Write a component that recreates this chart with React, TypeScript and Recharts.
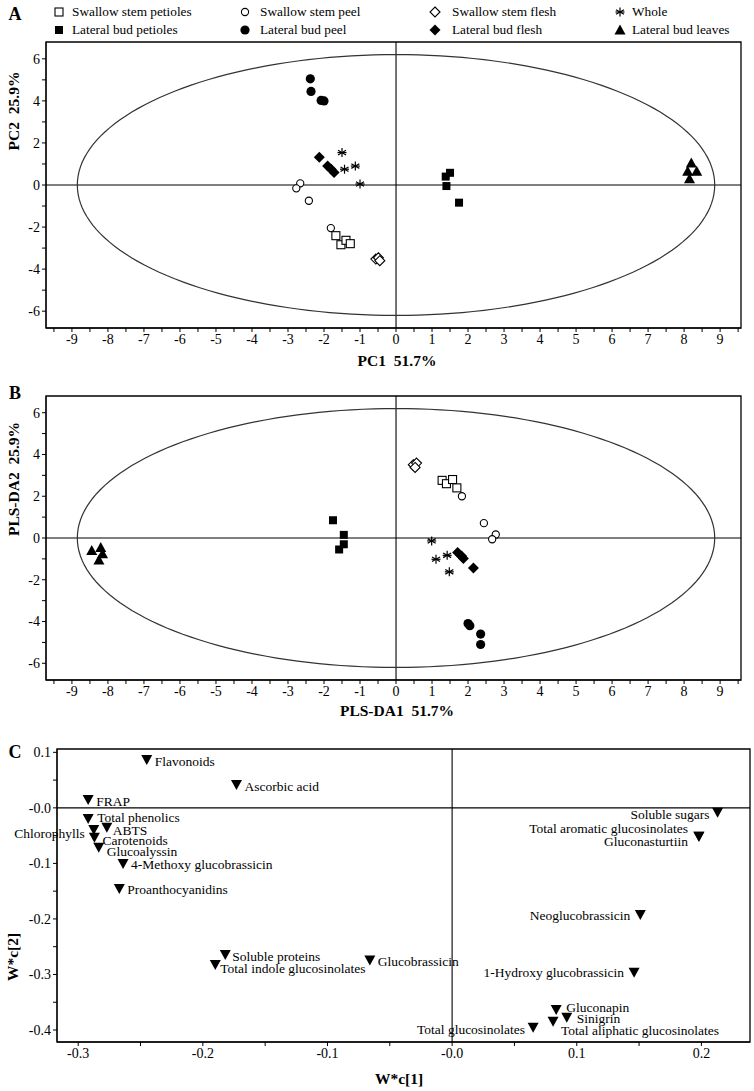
import React from 'react'
import { ReferenceArea, ReferenceLine, Scatter, ScatterChart, XAxis, YAxis } from 'recharts'

const SERIF = '"Liberation Serif", "Times New Roman", serif'

// ---- Panel A: PCA scores ----
const pcaSwallowPetioles = [[-1.67, -2.41], [-1.53, -2.84], [-1.39, -2.63], [-1.27, -2.79]]
const pcaLateralPetioles = [[1.5, 0.58], [1.38, 0.4], [1.4, -0.05], [1.75, -0.84]]
const pcaSwallowPeel = [[-2.66, 0.08], [-2.77, -0.16], [-2.42, -0.75], [-1.81, -2.05]]
const pcaLateralPeel = [[-2.38, 5.05], [-2.36, 4.45], [-2.08, 4.02], [-2.0, 4.0]]
const pcaSwallowFlesh = [[-0.56, -3.52], [-0.49, -3.46], [-0.45, -3.6]]
const pcaLateralFlesh = [[-2.13, 1.32], [-1.9, 0.9], [-1.8, 0.75], [-1.72, 0.6]]
const pcaWhole = [[-1.5, 1.54], [-1.43, 0.75], [-1.13, 0.9], [-1.0, 0.05]]
const pcaLateralLeaves = [[8.2, 1.05], [8.1, 0.65], [8.35, 0.65], [8.15, 0.3]]

// ---- Panel B: PLS-DA scores ----
const plsSwallowPetioles = [[1.28, 2.76], [1.4, 2.6], [1.57, 2.8], [1.69, 2.4]]
const plsLateralPetioles = [[-1.75, 0.85], [-1.45, 0.15], [-1.45, -0.3], [-1.58, -0.55]]
const plsSwallowPeel = [[1.83, 2.0], [2.44, 0.71], [2.77, 0.17], [2.67, -0.06]]
const plsLateralPeel = [[2.0, -4.1], [2.05, -4.2], [2.35, -4.6], [2.35, -5.1]]
const plsSwallowFlesh = [[0.48, 3.51], [0.57, 3.59], [0.53, 3.38]]
const plsLateralFlesh = [[1.71, -0.7], [1.82, -0.86], [1.87, -0.98], [2.15, -1.44]]
const plsWhole = [[0.99, -0.14], [1.11, -1.02], [1.42, -0.83], [1.48, -1.62]]
const plsLateralLeaves = [[-8.45, -0.6], [-8.2, -0.45], [-8.15, -0.75], [-8.25, -1.05]]

// Hotelling ellipse radii (PC1, PC2)
const ellipseRadii = [8.85, 6.2]

const scoreTicksX = [
  -9.5, -9, -8.5, -8, -7.5, -7, -6.5, -6, -5.5, -5, -4.5, -4, -3.5, -3, -2.5, -2, -1.5, -1, -0.5, 0,
  0.5, 1, 1.5, 2, 2.5, 3, 3.5, 4, 4.5, 5, 5.5, 6, 6.5, 7, 7.5, 8, 8.5, 9, 9.5,
]
const scoreTicksY = [-6, -5, -4, -3, -2, -1, 0, 1, 2, 3, 4, 5, 6]

// ---- Panel C: loadings ----
const loadingNames = [
  'Flavonoids', 'Ascorbic acid', 'FRAP', 'Total phenolics', 'Chlorophylls', 'ABTS', 'Carotenoids',
  'Glucoalyssin', '4-Methoxy glucobrassicin', 'Proanthocyanidins', 'Soluble proteins',
  'Total indole glucosinolates', 'Glucobrassicin', 'Neoglucobrassicin', '1-Hydroxy glucobrassicin',
  'Soluble sugars', 'Total aromatic glucosinolates', 'Gluconasturtiin', 'Gluconapin', 'Sinigrin',
  'Total aliphatic glucosinolates', 'Total glucosinolates',
]
const loadingX = [
  -0.245, -0.173, -0.292, -0.292, -0.2875, -0.277, -0.287, -0.2835, -0.264, -0.267, -0.182, -0.19,
  -0.066, 0.151, 0.146, 0.213, 0.198, 0.198, 0.0835, 0.092, 0.081, 0.065,
]
const loadingY = [
  0.086, 0.041, 0.014, -0.02, -0.04, -0.036, -0.054, -0.072, -0.101, -0.146, -0.265, -0.283, -0.275,
  -0.193, -0.297, -0.009, -0.052, -0.052, -0.364, -0.378, -0.385, -0.396,
]
const loadTicksX = [-0.3, -0.25, -0.2, -0.15, -0.1, -0.05, 0, 0.05, 0.1, 0.15, 0.2]
const loadTicksY = [0.1, 0.05, 0, -0.05, -0.1, -0.15, -0.2, -0.25, -0.3, -0.35, -0.4]

// label offset from triangle: dx, dy, anchor
const labelPlacement: Record<string, [number, number, 'start' | 'end']> = {
  'Total phenolics': [9, -1, 'start'],
  'Chlorophylls': [-9, 3, 'end'],
  'ABTS': [6, 3, 'start'],
  'Carotenoids': [8, 3, 'start'],
  'Glucoalyssin': [8, 4, 'start'],
  'Soluble proteins': [7, 1, 'start'],
  'Total indole glucosinolates': [5, 3, 'start'],
  'Neoglucobrassicin': [-10, 0, 'end'],
  '1-Hydroxy glucobrassicin': [-10, 0, 'end'],
  'Soluble sugars': [-8, 2, 'end'],
  'Total aromatic glucosinolates': [-11, -8, 'end'],
  'Gluconasturtiin': [-11, 5, 'end'],
  'Gluconapin': [10, -3, 'start'],
  'Sinigrin': [10, 1, 'start'],
  'Total aliphatic glucosinolates': [8, 9, 'start'],
  'Total glucosinolates': [-8, 2, 'end'],
}

type MarkerKind = 'openSquare' | 'square' | 'openCircle' | 'circle' | 'openDiamond' | 'diamond' | 'star' | 'triangle'

const groups: { name: string; kind: MarkerKind; pca: number[][]; pls: number[][] }[] = [
  { name: 'Swallow stem petioles', kind: 'openSquare', pca: pcaSwallowPetioles, pls: plsSwallowPetioles },
  { name: 'Swallow stem peel', kind: 'openCircle', pca: pcaSwallowPeel, pls: plsSwallowPeel },
  { name: 'Swallow stem flesh', kind: 'openDiamond', pca: pcaSwallowFlesh, pls: plsSwallowFlesh },
  { name: 'Whole', kind: 'star', pca: pcaWhole, pls: plsWhole },
  { name: 'Lateral bud petioles', kind: 'square', pca: pcaLateralPetioles, pls: plsLateralPetioles },
  { name: 'Lateral bud peel', kind: 'circle', pca: pcaLateralPeel, pls: plsLateralPeel },
  { name: 'Lateral bud flesh', kind: 'diamond', pca: pcaLateralFlesh, pls: plsLateralFlesh },
  { name: 'Lateral bud leaves', kind: 'triangle', pca: pcaLateralLeaves, pls: plsLateralLeaves },
]

const toPoints = (arr: number[][]) => arr.map(([x, y]) => ({ x, y }))

const ellipsePoints = Array.from({ length: 181 }, (_, i) => {
  const t = (i / 180) * Math.PI * 2
  return { x: ellipseRadii[0] * Math.cos(t), y: ellipseRadii[1] * Math.sin(t) }
})

function drawMarker(kind: MarkerKind, cx: number, cy: number) {
  const s = { stroke: '#000', strokeWidth: 1.1 }
  switch (kind) {
    case 'openSquare':
      return <rect x={cx - 4} y={cy - 4} width={8} height={8} fill="#fff" {...s} />
    case 'square':
      return <rect x={cx - 4} y={cy - 4} width={8} height={8} fill="#000" />
    case 'openCircle':
      return <circle cx={cx} cy={cy} r={3.6} fill="#fff" {...s} />
    case 'circle':
      return <circle cx={cx} cy={cy} r={4.6} fill="#000" />
    case 'openDiamond':
      return <polygon points={`${cx},${cy - 5} ${cx + 5},${cy} ${cx},${cy + 5} ${cx - 5},${cy}`} fill="#fff" {...s} />
    case 'diamond':
      return <polygon points={`${cx},${cy - 5.5} ${cx + 5.5},${cy} ${cx},${cy + 5.5} ${cx - 5.5},${cy}`} fill="#000" />
    case 'star':
      return (
        <g stroke="#000" strokeWidth={1.2}>
          <line x1={cx} y1={cy - 4.5} x2={cx} y2={cy + 4.5} />
          <line x1={cx - 4} y1={cy - 2.3} x2={cx + 4} y2={cy + 2.3} />
          <line x1={cx - 4} y1={cy + 2.3} x2={cx + 4} y2={cy - 2.3} />
          <line x1={cx - 4.5} y1={cy} x2={cx + 4.5} y2={cy} />
        </g>
      )
    case 'triangle':
    default:
      return <polygon points={`${cx},${cy - 5.5} ${cx + 5.5},${cy + 4.5} ${cx - 5.5},${cy + 4.5}`} fill="#000" />
  }
}

const tickStyle = { fontFamily: SERIF, fontSize: 14, fill: '#000' }

function ScorePanel({ top, height, which }: { top: number; height: number; which: 'pca' | 'pls' }) {
  return (
    <div style={{ position: 'absolute', left: 0, top }}>
      <ScatterChart width={754} height={height} margin={{ top: 42, right: 13, bottom: 2, left: 16 }}>
        <XAxis
          type="number"
          dataKey="x"
          domain={[-9.72, 9.58]}
          ticks={scoreTicksX}
          interval={0}
          tickFormatter={(v: number) => (Number.isInteger(v) ? String(v) : '')}
          tickSize={4}
          height={30}
          stroke="#000"
          tick={tickStyle}
        />
        <YAxis
          type="number"
          dataKey="y"
          domain={[-6.8, 6.8]}
          ticks={scoreTicksY}
          interval={0}
          tickFormatter={(v: number) => (v % 2 === 0 ? String(v) : '')}
          tickSize={4}
          width={30}
          stroke="#000"
          tick={tickStyle}
        />
        <ReferenceArea x1={-9.72} x2={9.58} y1={-6.8} y2={6.8} fill="none" fillOpacity={0} stroke="#000" strokeWidth={1.3} />
        <ReferenceLine x={0} stroke="#000" strokeWidth={1.1} />
        <ReferenceLine y={0} stroke="#000" strokeWidth={1.1} />
        <Scatter
          data={ellipsePoints}
          line={{ stroke: '#333', strokeWidth: 1.2 }}
          shape={() => <g />}
          isAnimationActive={false}
        />
        {groups.map((g) => (
          <Scatter
            key={g.name}
            name={g.name}
            data={toPoints(g[which])}
            shape={(p: any) => drawMarker(g.kind, p.cx, p.cy)}
            isAnimationActive={false}
          />
        ))}
      </ScatterChart>
    </div>
  )
}

const loadingPoints = loadingNames.map((name, i) => ({ name, x: loadingX[i], y: loadingY[i] }))

const loadFmt = (v: number) => {
  const r = Math.round(v * 10)
  if (Math.abs(v * 10 - r) > 1e-6) return ''
  return r === 0 ? '-0.0' : (r / 10).toFixed(1)
}

function LoadingShape(p: any) {
  const { cx, cy, payload } = p
  const [dx, dy, anchor] = labelPlacement[payload.name] ?? [8, 1, 'start']
  return (
    <g>
      <polygon points={`${cx - 5.5},${cy - 5} ${cx + 5.5},${cy - 5} ${cx},${cy + 5}`} fill="#000" />
      <text
        x={cx + dx}
        y={cy + dy}
        textAnchor={anchor}
        dominantBaseline="central"
        fontFamily={SERIF}
        fontSize={13.5}
        fill="#000"
      >
        {payload.name}
      </text>
    </g>
  )
}

function LoadingPanel() {
  return (
    <div style={{ position: 'absolute', left: 0, top: 707 }}>
      <ScatterChart width={754} height={367} margin={{ top: 42, right: 4, bottom: 2, left: 17 }}>
        <XAxis
          type="number"
          dataKey="x"
          domain={[-0.317, 0.239]}
          ticks={loadTicksX}
          interval={0}
          tickFormatter={loadFmt}
          tickSize={4}
          height={30}
          stroke="#000"
          tick={tickStyle}
        />
        <YAxis
          type="number"
          dataKey="y"
          domain={[-0.4216, 0.106]}
          ticks={loadTicksY}
          interval={0}
          tickFormatter={loadFmt}
          tickSize={4}
          width={40}
          stroke="#000"
          tick={tickStyle}
        />
        <ReferenceArea x1={-0.317} x2={0.239} y1={-0.4216} y2={0.106} fill="none" fillOpacity={0} stroke="#000" strokeWidth={1.3} />
        <ReferenceLine x={0} stroke="#000" strokeWidth={1.1} />
        <ReferenceLine y={0} stroke="#000" strokeWidth={1.1} />
        <Scatter data={loadingPoints} shape={LoadingShape} isAnimationActive={false} />
      </ScatterChart>
    </div>
  )
}

const legendCols = [
  { marker: 59, text: 72 },
  { marker: 245, text: 260 },
  { marker: 435, text: 452 },
  { marker: 620, text: 632 },
]

function Legend() {
  return (
    <>
      {groups.map((g, i) => {
        const col = legendCols[i % 4]
        const y = i < 4 ? 12 : 30
        return (
          <React.Fragment key={g.name}>
            <svg style={{ position: 'absolute', left: col.marker - 7, top: y - 7 }} width={14} height={14}>
              {drawMarker(g.kind, 7, 7)}
            </svg>
            <div
              style={{
                position: 'absolute',
                left: col.text,
                top: y - 9,
                fontFamily: SERIF,
                fontSize: 13.3,
                lineHeight: '18px',
                whiteSpace: 'nowrap',
              }}
            >
              {g.name}
            </div>
          </React.Fragment>
        )
      })}
    </>
  )
}

const bold = { fontFamily: SERIF, fontWeight: 700, color: '#000', whiteSpace: 'pre' as const }

function Title({ x, y, text, size = 15.5, rotate = false }: { x: number; y: number; text: string; size?: number; rotate?: boolean }) {
  return (
    <div
      style={{
        ...bold,
        position: 'absolute',
        left: x,
        top: y,
        fontSize: size,
        lineHeight: 1,
        transform: `translate(-50%, -50%)${rotate ? ' rotate(-90deg)' : ''}`,
      }}
    >
      {text}
    </div>
  )
}

export default function App() {
  return (
    <div style={{ position: 'absolute', left: 0, top: 0, width: 754, height: 1091, background: '#fff' }}>
      <Legend />
      <ScorePanel top={0} height={360} which="pca" />
      <ScorePanel top={354} height={358} which="pls" />
      <LoadingPanel />
      <Title x={15} y={14} text="A" size={18} />
      <Title x={15} y={393} text="B" size={18} />
      <Title x={15} y={752} text="C" size={18} />
      <Title x={14} y={111} text="PC2  25.9%" rotate />
      <Title x={397} y={361} text="PC1  51.7%" />
      <Title x={14} y={479} text="PLS-DA2  25.9%" rotate />
      <Title x={397} y={711} text="PLS-DA1  51.7%" />
      <Title x={13} y={957} text="W*c[2]" rotate />
      <Title x={399} y={1079} text="W*c[1]" />
    </div>
  )
}
